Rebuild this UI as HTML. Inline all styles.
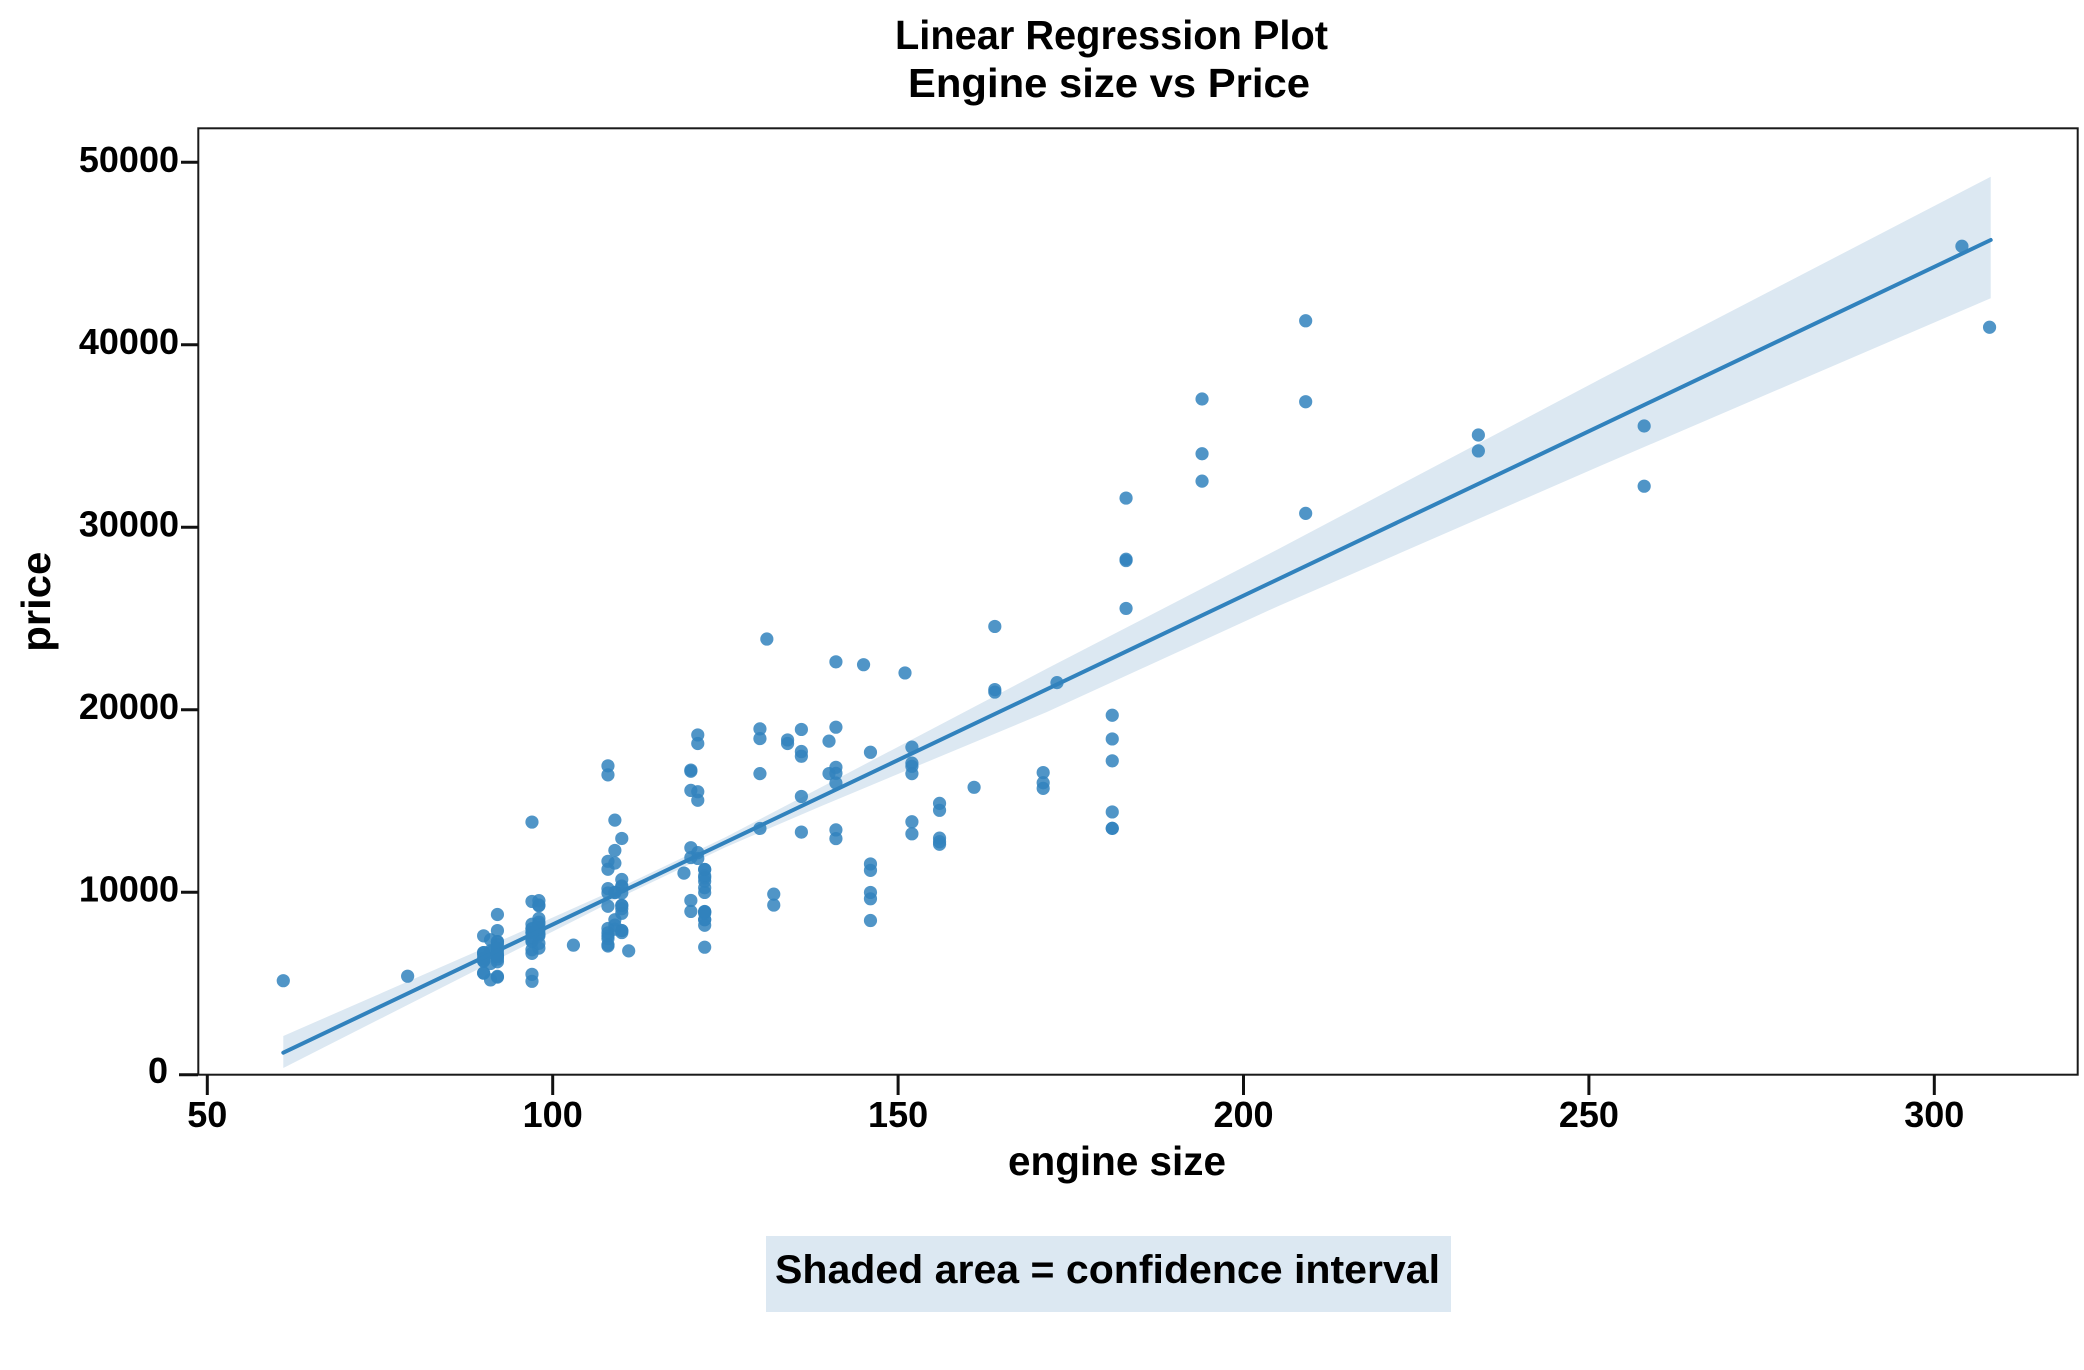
<!DOCTYPE html>
<html>
<head>
<meta charset="utf-8">
<style>
html,body{margin:0;padding:0;background:#fff;}
svg{display:block;}
text{font-family:"Liberation Sans",Arial,sans-serif;font-weight:bold;fill:#000;}
</style>
</head>
<body>
<svg width="2084" height="1370" viewBox="0 0 2084 1370" xmlns="http://www.w3.org/2000/svg">
<defs>
<ellipse id="d" cx="0" cy="0" rx="0.955" ry="361.7"/>
</defs>
<rect x="0" y="0" width="2084" height="1370" fill="#fff"/>

<!-- Titles -->
<text x="1111.5" y="49" font-size="41" text-anchor="middle" textLength="433" lengthAdjust="spacingAndGlyphs">Linear Regression Plot</text>
<text x="1109" y="97" font-size="41" text-anchor="middle" textLength="402" lengthAdjust="spacingAndGlyphs">Engine size vs Price</text>

<!-- CI band -->
<polygon fill="#dce8f2" points="283.3,1036 483.6,948.4 621.8,886.6 725.4,837.3 822.1,786.7 1046.6,668.8 1278,549.2 1600,379.3 1990.7,176.7 1990.7,298.3 1600,466 1278,606.2 1046.6,712.1 822.1,805.7 725.4,847.3 621.8,896.6 483.6,966.4 283.3,1068"/>

<!-- Points -->
<g transform="matrix(6.908 0 0 -0.018248 -138.1 1074.7)" fill="#3182bd" fill-opacity="0.85">
<use href="#d" x="130" y="13495"/><use href="#d" x="130" y="16500"/><use href="#d" x="152" y="16500"/>
<use href="#d" x="109" y="13950"/><use href="#d" x="136" y="17450"/><use href="#d" x="136" y="15250"/><use href="#d" x="136" y="17710"/><use href="#d" x="136" y="18920"/><use href="#d" x="131" y="23875"/>
<use href="#d" x="108" y="16430"/><use href="#d" x="108" y="16925"/><use href="#d" x="164" y="20970"/><use href="#d" x="164" y="21105"/><use href="#d" x="164" y="24565"/><use href="#d" x="209" y="30760"/><use href="#d" x="209" y="41315"/><use href="#d" x="209" y="36880"/>
<use href="#d" x="61" y="5151"/><use href="#d" x="90" y="6295"/><use href="#d" x="90" y="6575"/>
<use href="#d" x="90" y="5572"/><use href="#d" x="90" y="6377"/><use href="#d" x="98" y="7957"/><use href="#d" x="90" y="6229"/><use href="#d" x="90" y="6692"/><use href="#d" x="90" y="7609"/><use href="#d" x="98" y="8558"/><use href="#d" x="122" y="8921"/><use href="#d" x="156" y="12964"/>
<use href="#d" x="92" y="6479"/><use href="#d" x="92" y="6855"/><use href="#d" x="79" y="5399"/><use href="#d" x="92" y="6529"/><use href="#d" x="92" y="7129"/><use href="#d" x="92" y="7295"/><use href="#d" x="92" y="7295"/><use href="#d" x="110" y="7895"/><use href="#d" x="110" y="9095"/><use href="#d" x="110" y="8845"/><use href="#d" x="110" y="10295"/><use href="#d" x="110" y="12945"/><use href="#d" x="110" y="10345"/>
<use href="#d" x="111" y="6785"/><use href="#d" x="119" y="11048"/>
<use href="#d" x="258" y="32250"/><use href="#d" x="258" y="35550"/>
<use href="#d" x="91" y="5195"/><use href="#d" x="91" y="6095"/><use href="#d" x="91" y="6795"/><use href="#d" x="91" y="6695"/><use href="#d" x="91" y="7395"/><use href="#d" x="122" y="8845"/><use href="#d" x="122" y="8495"/><use href="#d" x="122" y="10595"/><use href="#d" x="122" y="10245"/><use href="#d" x="122" y="10795"/><use href="#d" x="122" y="11245"/><use href="#d" x="140" y="18280"/><use href="#d" x="134" y="18344"/>
<use href="#d" x="183" y="25552"/><use href="#d" x="183" y="28248"/><use href="#d" x="183" y="28176"/><use href="#d" x="183" y="31600"/><use href="#d" x="234" y="34184"/><use href="#d" x="234" y="35056"/><use href="#d" x="308" y="40960"/><use href="#d" x="304" y="45400"/>
<use href="#d" x="140" y="16503"/>
<use href="#d" x="92" y="5389"/><use href="#d" x="92" y="6189"/><use href="#d" x="92" y="6669"/><use href="#d" x="98" y="7689"/><use href="#d" x="110" y="9959"/><use href="#d" x="122" y="8499"/><use href="#d" x="156" y="12629"/><use href="#d" x="156" y="14869"/><use href="#d" x="156" y="14489"/><use href="#d" x="122" y="6989"/><use href="#d" x="122" y="8189"/><use href="#d" x="110" y="9279"/><use href="#d" x="110" y="9279"/>
<use href="#d" x="97" y="5499"/><use href="#d" x="103" y="7099"/><use href="#d" x="97" y="6649"/><use href="#d" x="97" y="6849"/><use href="#d" x="97" y="7349"/><use href="#d" x="97" y="7299"/><use href="#d" x="97" y="7799"/><use href="#d" x="97" y="7499"/><use href="#d" x="97" y="7999"/><use href="#d" x="97" y="8249"/><use href="#d" x="120" y="8949"/><use href="#d" x="120" y="9549"/><use href="#d" x="181" y="13499"/><use href="#d" x="181" y="14399"/><use href="#d" x="181" y="13499"/><use href="#d" x="181" y="17199"/><use href="#d" x="181" y="19699"/><use href="#d" x="181" y="18399"/>
<use href="#d" x="120" y="11900"/><use href="#d" x="152" y="13200"/><use href="#d" x="120" y="12440"/><use href="#d" x="152" y="13860"/><use href="#d" x="120" y="15580"/><use href="#d" x="152" y="16900"/><use href="#d" x="120" y="16695"/><use href="#d" x="152" y="17075"/><use href="#d" x="120" y="16630"/><use href="#d" x="152" y="17950"/><use href="#d" x="134" y="18150"/>
<use href="#d" x="90" y="5572"/><use href="#d" x="98" y="7957"/><use href="#d" x="90" y="6229"/><use href="#d" x="90" y="6692"/><use href="#d" x="98" y="7609"/><use href="#d" x="122" y="8921"/><use href="#d" x="156" y="12764"/>
<use href="#d" x="151" y="22018"/><use href="#d" x="194" y="32528"/><use href="#d" x="194" y="34028"/><use href="#d" x="194" y="37028"/>
<use href="#d" x="132" y="9295"/><use href="#d" x="132" y="9895"/>
<use href="#d" x="121" y="11850"/><use href="#d" x="121" y="12170"/><use href="#d" x="121" y="15040"/><use href="#d" x="121" y="15510"/><use href="#d" x="121" y="18150"/><use href="#d" x="121" y="18620"/>
<use href="#d" x="97" y="5118"/><use href="#d" x="108" y="7053"/><use href="#d" x="108" y="7603"/><use href="#d" x="108" y="7126"/><use href="#d" x="108" y="7775"/><use href="#d" x="108" y="9960"/><use href="#d" x="108" y="9233"/><use href="#d" x="108" y="11259"/><use href="#d" x="108" y="7463"/><use href="#d" x="108" y="10198"/><use href="#d" x="108" y="8013"/><use href="#d" x="108" y="11694"/>
<use href="#d" x="92" y="5348"/><use href="#d" x="92" y="6338"/><use href="#d" x="92" y="6488"/><use href="#d" x="92" y="6918"/><use href="#d" x="92" y="7898"/><use href="#d" x="92" y="8778"/><use href="#d" x="98" y="6938"/><use href="#d" x="98" y="7198"/><use href="#d" x="110" y="7898"/><use href="#d" x="110" y="7788"/><use href="#d" x="98" y="7738"/><use href="#d" x="98" y="8358"/><use href="#d" x="98" y="9258"/><use href="#d" x="98" y="8058"/><use href="#d" x="98" y="8238"/><use href="#d" x="98" y="9298"/><use href="#d" x="98" y="9538"/><use href="#d" x="146" y="8449"/><use href="#d" x="146" y="9639"/><use href="#d" x="146" y="9989"/><use href="#d" x="146" y="11199"/><use href="#d" x="146" y="11549"/><use href="#d" x="146" y="17669"/><use href="#d" x="122" y="8948"/><use href="#d" x="110" y="10698"/><use href="#d" x="122" y="9988"/><use href="#d" x="122" y="10898"/><use href="#d" x="122" y="11248"/><use href="#d" x="171" y="16558"/><use href="#d" x="171" y="15998"/><use href="#d" x="171" y="15690"/><use href="#d" x="161" y="15750"/>
<use href="#d" x="97" y="7775"/><use href="#d" x="109" y="7975"/><use href="#d" x="97" y="7995"/><use href="#d" x="109" y="8195"/><use href="#d" x="109" y="8495"/><use href="#d" x="97" y="9495"/><use href="#d" x="109" y="9995"/><use href="#d" x="109" y="11595"/><use href="#d" x="109" y="9980"/><use href="#d" x="136" y="13295"/><use href="#d" x="97" y="13845"/><use href="#d" x="109" y="12290"/>
<use href="#d" x="141" y="12940"/><use href="#d" x="141" y="13415"/><use href="#d" x="141" y="15985"/><use href="#d" x="141" y="16515"/><use href="#d" x="130" y="18420"/><use href="#d" x="130" y="18950"/><use href="#d" x="141" y="16845"/><use href="#d" x="141" y="19045"/><use href="#d" x="173" y="21485"/><use href="#d" x="145" y="22470"/><use href="#d" x="141" y="22625"/>
</g>

<!-- Regression line -->
<line x1="283.3" y1="1052.7" x2="1990.7" y2="240" stroke="#3182bd" stroke-width="4" stroke-linecap="round"/>

<!-- Spines -->
<rect x="198.3" y="128.3" width="1879.4" height="946.4" fill="none" stroke="#1a1a1a" stroke-width="2"/>

<!-- X ticks -->
<g stroke="#111" stroke-width="3">
<line x1="207.3" y1="1075" x2="207.3" y2="1095"/>
<line x1="552.7" y1="1075" x2="552.7" y2="1095"/>
<line x1="898.1" y1="1075" x2="898.1" y2="1095"/>
<line x1="1243.5" y1="1075" x2="1243.5" y2="1095"/>
<line x1="1588.9" y1="1075" x2="1588.9" y2="1095"/>
<line x1="1934.3" y1="1075" x2="1934.3" y2="1095"/>
</g>
<g font-size="36" text-anchor="middle">
<text x="207.3" y="1127">50</text>
<text x="552.7" y="1127">100</text>
<text x="898.1" y="1127">150</text>
<text x="1243.5" y="1127">200</text>
<text x="1588.9" y="1127">250</text>
<text x="1934.3" y="1127">300</text>
</g>

<!-- Y ticks -->
<g stroke="#111" stroke-width="3">
<line x1="179" y1="1074.7" x2="198" y2="1074.7"/>
<line x1="181" y1="892.2" x2="198" y2="892.2"/>
<line x1="181" y1="709.7" x2="198" y2="709.7"/>
<line x1="181" y1="527.3" x2="198" y2="527.3"/>
<line x1="181" y1="344.8" x2="198" y2="344.8"/>
<line x1="181" y1="162.3" x2="198" y2="162.3"/>
</g>
<g font-size="36" text-anchor="end">
<text x="168" y="1083">0</text>
<text x="179" y="901.5">10000</text>
<text x="179" y="719">20000</text>
<text x="179" y="536.5">30000</text>
<text x="179" y="354">40000</text>
<text x="179" y="172">50000</text>
</g>

<!-- Axis labels -->
<text x="1117" y="1175" font-size="41" text-anchor="middle" textLength="218" lengthAdjust="spacingAndGlyphs">engine size</text>
<text transform="translate(50,601.7) rotate(-90)" x="0" y="0" font-size="41" text-anchor="middle" textLength="100" lengthAdjust="spacingAndGlyphs">price</text>

<!-- Annotation box -->
<rect x="766" y="1236" width="685" height="76" fill="#dce8f2"/>
<text x="775" y="1283" font-size="40" textLength="665" lengthAdjust="spacingAndGlyphs">Shaded area = confidence interval</text>
</svg>
</body>
</html>
